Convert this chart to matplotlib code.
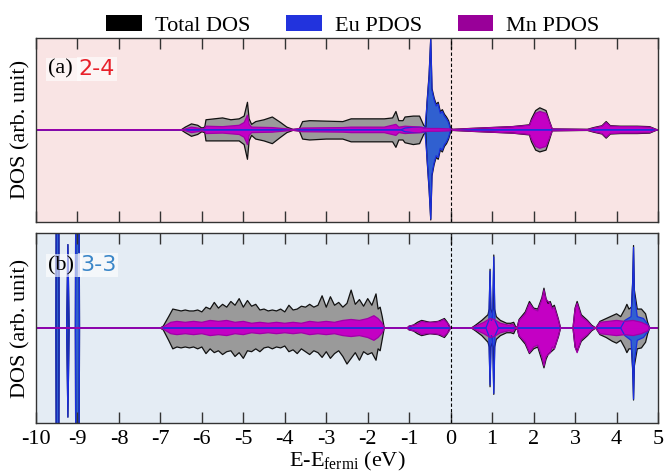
"""
Total and projected DOS of two Eu-Mn configurations, spin up / spin down.
"""

import matplotlib.pyplot as plt
from matplotlib.patches import Patch

# ---------------- panel (a) 2-4 ----------------
e_tot_a = [-10.0, -6.5, -6.4, -6.25, -6.1, -6.0, -5.93, -5.9, -5.7, -5.5, -5.3, -5.1,
           -4.98, -4.9, -4.86, -4.8, -4.7, -4.5, -4.3, -4.1, -3.95, -3.8, -3.65, -3.57,
           -3.4, -3.0, -2.6, -2.4, -2.0, -1.6, -1.4, -1.32, -1.25, -1.15, -1.1, -0.9,
           -0.75, -0.65, -0.6, -0.57, -0.52, -0.48, -0.45, -0.4, -0.35, -0.3, -0.25,
           -0.2, -0.15, -0.1, -0.05, 0.0, 0.05, 0.5, 1.0, 1.5, 1.9, 1.95, 2.05, 2.15,
           2.3, 2.38, 2.45, 3.3, 3.45, 3.65, 3.75, 3.85, 4.1, 4.5, 4.8, 4.95, 5.0]
tot_up_a = [0.0, 0.0, 0.03, 0.065, 0.05, 0.02, 0.03, 0.11, 0.12, 0.13, 0.11, 0.12,
            0.15, 0.30, 0.12, 0.06, 0.09, 0.11, 0.14, 0.08, 0.03, 0.005, 0.01, 0.09,
            0.10, 0.095, 0.09, 0.12, 0.12, 0.12, 0.13, 0.20, 0.10, 0.10, 0.14, 0.15,
            0.15, 0.05, 0.03, 0.30, 0.60, 1.00, 0.45, 0.35, 0.28, 0.30, 0.20,
            0.22, 0.17, 0.14, 0.10, 0.02, 0.006, 0.016, 0.026, 0.036, 0.055, 0.12, 0.21, 0.24,
            0.21, 0.10, 0.01, 0.006, 0.025, 0.045, 0.09, 0.045, 0.04, 0.04, 0.035, 0.006, 0.0]
tot_dn_a = [0.0, 0.0, 0.03, 0.07, 0.05, 0.02, 0.03, 0.12, 0.12, 0.12, 0.12, 0.12,
            0.16, 0.32, 0.12, 0.06, 0.10, 0.12, 0.15, 0.08, 0.03, 0.005, 0.01, 0.10,
            0.11, 0.10, 0.10, 0.13, 0.13, 0.13, 0.13, 0.19, 0.11, 0.11, 0.14, 0.16,
            0.15, 0.05, 0.03, 0.32, 0.65, 0.98, 0.50, 0.38, 0.30, 0.32, 0.22,
            0.24, 0.18, 0.15, 0.10, 0.02, 0.006, 0.016, 0.026, 0.036, 0.055, 0.13, 0.22, 0.24,
            0.22, 0.11, 0.01, 0.006, 0.025, 0.045, 0.09, 0.045, 0.04, 0.04, 0.035, 0.006, 0.0]

e_eu_a = [-10.0, -1.2, -1.1, -0.9, -0.7, -0.62, -0.57, -0.52, -0.48, -0.45, -0.4,
          -0.35, -0.3, -0.25, -0.2, -0.15, -0.1, -0.05, 0.0, 5.0]
eu_up_a = [0.0, 0.0, 0.02, 0.03, 0.03, 0.02, 0.28, 0.58, 0.99, 0.43, 0.33,
           0.26, 0.28, 0.18, 0.20, 0.15, 0.12, 0.08, 0.0, 0.0]
eu_dn_a = [0.0, 0.0, 0.02, 0.03, 0.03, 0.02, 0.30, 0.63, 0.97, 0.48, 0.36,
           0.28, 0.30, 0.20, 0.22, 0.16, 0.13, 0.08, 0.0, 0.0]

e_mn_a = [-10.0, -6.5, -6.4, -6.25, -6.1, -6.0, -5.93, -5.9, -5.5, -5.1, -4.98, -4.9,
          -4.86, -4.8, -4.3, -3.8, -3.57, -2.6, -2.4, -1.6, -1.32, -1.25, -1.1, -0.75,
          -0.65, -0.5, -0.3, 0.0, 0.05, 0.5, 1.0, 1.5, 1.9, 1.95, 2.05, 2.15, 2.3, 2.38,
          2.45, 3.3, 3.45, 3.65, 3.75, 3.85, 4.1, 4.5, 4.8, 4.95, 5.0]
mn_a = [0.0, 0.0, 0.01, 0.03, 0.02, 0.01, 0.02, 0.04, 0.035, 0.05, 0.08, 0.16,
        0.06, 0.03, 0.025, 0.005, 0.02, 0.025, 0.03, 0.03, 0.06, 0.03, 0.04, 0.03,
        0.02, 0.015, 0.015, 0.01, 0.005, 0.015, 0.025, 0.035, 0.05, 0.10, 0.18, 0.20, 0.18, 0.09,
        0.01, 0.004, 0.02, 0.04, 0.08, 0.04, 0.035, 0.035, 0.03, 0.005, 0.0]

# ---------------- panel (b) 3-3 ----------------
e_tot_b = [-10.0, -9.52, -9.48, -9.44, -9.26, -9.23, -9.2, -9.05, -9.01, -8.99, -8.95,
           -7.0, -6.93, -6.8,
           -6.7, -6.6, -6.5, -6.4, -6.3, -6.2, -6.1, -6.0, -5.9, -5.8, -5.7, -5.6, -5.5,
           -5.4, -5.3, -5.2, -5.1, -5.0, -4.9, -4.8, -4.7, -4.6, -4.5, -4.4, -4.3, -4.2,
           -4.1, -4.0, -3.9, -3.8, -3.7, -3.6, -3.5, -3.4, -3.3, -3.2, -3.1, -3.0, -2.9,
           -2.8, -2.7, -2.6, -2.5, -2.4, -2.3, -2.2, -2.1, -2.0, -1.9, -1.8, -1.75, -1.7,
           -1.65, -1.6,
           -1.05, -1.0, -0.9, -0.8, -0.75, -0.7, -0.6, -0.5, -0.4, -0.3, -0.2, -0.15,
           -0.08, -0.02, 0.0,
           0.5, 0.6, 0.75, 0.9, 0.93, 0.95, 0.97, 1.0, 1.02, 1.04, 1.06, 1.1, 1.2, 1.35,
           1.45, 1.52, 1.56, 1.6, 1.65, 1.8, 1.9, 2.0, 2.1, 2.2, 2.25, 2.3, 2.35, 2.4,
           2.45, 2.5, 2.6, 2.65, 2.95, 3.0, 3.05, 3.15, 3.3, 3.4, 3.5, 3.6, 3.75, 3.9,
           4.0, 4.1, 4.2, 4.25, 4.3, 4.36, 4.39, 4.41, 4.43, 4.5, 4.6, 4.7, 4.75, 4.8, 5.0]
tot_up_b = [0.0, 0.0, 6.0, 0.0, 0.0, 0.88, 0.0, 0.0, 6.0, 6.0, 0.0,
            0.0, 0.02, 0.12,
            0.20, 0.19, 0.18, 0.19, 0.18, 0.18, 0.19, 0.17, 0.22, 0.20, 0.27, 0.21, 0.25,
            0.22, 0.28, 0.24, 0.31, 0.22, 0.29, 0.23, 0.25, 0.19, 0.20, 0.18, 0.19, 0.18,
            0.20, 0.17, 0.24, 0.19, 0.20, 0.23, 0.22, 0.25, 0.22, 0.24, 0.34, 0.22, 0.33,
            0.24, 0.27, 0.22, 0.26, 0.40, 0.25, 0.30, 0.23, 0.31, 0.24, 0.36, 0.20, 0.22,
            0.12, 0.0,
            0.0, 0.02, 0.03, 0.06, 0.07, 0.08, 0.07, 0.06, 0.065, 0.07, 0.09, 0.10,
            0.06, 0.01, 0.0,
            0.0, 0.03, 0.08, 0.14, 0.20, 0.62, 0.20, 0.16, 0.20, 0.77, 0.20, 0.12, 0.08, 0.05,
            0.05, 0.06, 0.02, 0.0, 0.09, 0.17, 0.28, 0.21, 0.20, 0.32, 0.42, 0.31, 0.26, 0.28,
            0.22, 0.24, 0.09, 0.0, 0.0, 0.21, 0.28, 0.14, 0.08, 0.03, 0.0, 0.07, 0.10, 0.13,
            0.15, 0.12, 0.20, 0.25, 0.20, 0.22, 0.50, 0.87, 0.40, 0.20, 0.20, 0.15, 0.06, 0.0, 0.0]
tot_dn_b = [0.0, 0.0, 6.0, 0.0, 0.0, 0.94, 0.0, 0.0, 6.0, 6.0, 0.0,
            0.0, 0.02, 0.13,
            0.22, 0.20, 0.21, 0.20, 0.21, 0.20, 0.22, 0.20, 0.27, 0.22, 0.26, 0.24, 0.28,
            0.25, 0.24, 0.30, 0.26, 0.32, 0.24, 0.25, 0.22, 0.25, 0.21, 0.20, 0.22, 0.20,
            0.21, 0.19, 0.25, 0.23, 0.27, 0.22, 0.25, 0.28, 0.24, 0.26, 0.31, 0.25, 0.32,
            0.27, 0.24, 0.30, 0.38, 0.32, 0.26, 0.34, 0.25, 0.28, 0.26, 0.34, 0.22, 0.24,
            0.12, 0.0,
            0.0, 0.02, 0.03, 0.06, 0.07, 0.08, 0.07, 0.06, 0.065, 0.07, 0.09, 0.10,
            0.06, 0.01, 0.0,
            0.0, 0.03, 0.08, 0.15, 0.20, 0.62, 0.20, 0.16, 0.20, 0.70, 0.20, 0.12, 0.08, 0.05,
            0.05, 0.06, 0.02, 0.0, 0.09, 0.17, 0.27, 0.22, 0.20, 0.34, 0.42, 0.33, 0.28, 0.26,
            0.24, 0.22, 0.09, 0.0, 0.0, 0.20, 0.25, 0.14, 0.08, 0.03, 0.0, 0.07, 0.10, 0.14,
            0.16, 0.13, 0.21, 0.26, 0.22, 0.22, 0.45, 0.76, 0.40, 0.22, 0.21, 0.15, 0.06, 0.0, 0.0]

e_eu_b = [-10.0, -9.52, -9.48, -9.44, -9.26, -9.23, -9.2, -9.05, -9.01, -8.99, -8.95,
          0.85, 0.92, 0.95, 0.98, 1.01, 1.04, 1.07, 1.15, 4.1, 4.2, 4.35, 4.39, 4.41,
          4.43, 4.5, 4.65, 4.75, 4.8, 5.0]
eu_up_b = [0.0, 0.0, 6.0, 0.0, 0.0, 0.88, 0.0, 0.0, 6.0, 6.0, 0.0,
           0.0, 0.08, 0.60, 0.08, 0.10, 0.75, 0.08, 0.0, 0.0, 0.08, 0.12, 0.48, 0.85,
           0.35, 0.12, 0.10, 0.04, 0.0, 0.0]
eu_dn_b = [0.0, 0.0, 6.0, 0.0, 0.0, 0.94, 0.0, 0.0, 6.0, 6.0, 0.0,
           0.0, 0.08, 0.60, 0.08, 0.10, 0.69, 0.08, 0.0, 0.0, 0.08, 0.13, 0.43, 0.75,
           0.35, 0.13, 0.10, 0.04, 0.0, 0.0]

e_mn_b = [-10.0, -7.0, -6.9, -6.75, -6.6, -6.4, -6.2, -6.0, -5.8, -5.6, -5.4, -5.2, -5.0,
          -4.8, -4.6, -4.4, -4.2, -4.0, -3.8, -3.6, -3.4, -3.2, -3.0, -2.8, -2.6, -2.4,
          -2.2, -2.0, -1.85, -1.75, -1.65, -1.6, -1.05, -1.0, -0.8, -0.7, -0.6, -0.4,
          -0.25, -0.17, -0.05, 0.0, 0.5, 0.6, 0.8, 0.95, 1.05, 1.2, 1.4, 1.5, 1.55, 1.6,
          1.65, 1.8, 1.9, 2.0, 2.1, 2.2, 2.25, 2.3, 2.4, 2.45, 2.5, 2.6, 2.65, 2.95, 3.0,
          3.05, 3.15, 3.3, 3.4, 3.5, 3.6, 3.8, 4.0, 4.2, 4.4, 4.6, 4.75, 4.8, 5.0]
mn_b = [0.0, 0.0, 0.02, 0.06, 0.07, 0.06, 0.07, 0.06, 0.08, 0.07, 0.08, 0.06, 0.07,
        0.05, 0.06, 0.05, 0.06, 0.05, 0.06, 0.05, 0.07, 0.06, 0.07, 0.06, 0.08, 0.09,
        0.08, 0.10, 0.13, 0.10, 0.05, 0.0, 0.0, 0.02, 0.04, 0.07, 0.06, 0.06,
        0.07, 0.09, 0.04, 0.0, 0.0, 0.02, 0.06, 0.10, 0.09, 0.05, 0.03, 0.04, 0.01, 0.0,
        0.08, 0.15, 0.26, 0.20, 0.18, 0.30, 0.40, 0.30, 0.26, 0.20, 0.22, 0.08, 0.0, 0.0, 0.20,
        0.26, 0.12, 0.07, 0.02, 0.0, 0.06, 0.07, 0.08, 0.07, 0.08, 0.06, 0.03, 0.0, 0.0]

panels = [
    ("(a) ", "2-4", "#e8202a", "#f9e4e4",
     (e_tot_a, tot_up_a, tot_dn_a), (e_eu_a, eu_up_a, eu_dn_a), (e_mn_a, mn_a, mn_a)),
    ("(b) ", "3-3", "#3a86c8", "#e4ecf4",
     (e_tot_b, tot_up_b, tot_dn_b), (e_eu_b, eu_up_b, eu_dn_b), (e_mn_b, mn_b, mn_b)),
]

plt.rcParams["font.family"] = ["Liberation Serif", "DejaVu Serif"]
plt.rcParams["font.size"] = 16
plt.rcParams["axes.unicode_minus"] = False

fig = plt.figure(figsize=(6.66, 4.74), dpi=100)
ax_a = fig.add_axes([0.054, 0.532, 0.934, 0.388])
ax_b = fig.add_axes([0.054, 0.108, 0.934, 0.400])

styles = [("#9a9a9a", "#111111"), ("#3060d0", "#1a2ee0"), ("#c400c4", "#a000a8")]

for ax, (tag, name, name_color, bg, tot, eu, mn) in zip([ax_a, ax_b], panels):
    ax.set_facecolor(bg)
    for (xs, up, dn), (fc, ec) in zip([tot, eu, mn], styles):
        neg = [-v for v in dn]
        ax.fill_between(xs, 0, up, facecolor=fc, edgecolor="none")
        ax.fill_between(xs, 0, neg, facecolor=fc, edgecolor="none")
        ax.plot(xs, up, color=ec, lw=0.9)
        ax.plot(xs, neg, color=ec, lw=0.9)

    ax.axvline(0, color="black", lw=0.8, ls=(0, (3, 2)))
    ax.set_xlim(-10, 5)
    ax.set_ylim(-1.0, 1.0)
    ax.set_xticks(range(-10, 6))
    ax.set_yticks([])
    ax.tick_params(axis="x", direction="in", top=True, bottom=True,
                   length=8, width=1, color="#333333", pad=5)
    for sp in ax.spines.values():
        sp.set_color("#333333")
        sp.set_linewidth(1.0)
    ax.set_ylabel("DOS (arb. unit)", labelpad=4)

    t = ax.text(0.02, 0.83, tag, transform=ax.transAxes, fontsize=16,
                va="center", ha="left", color="black")
    t.set_bbox(dict(facecolor="white", alpha=0.6, edgecolor="none", pad=1.5))
    ax.annotate(name, xycoords=t, xy=(1, 0.5), va="center", ha="left",
                fontsize=16, color=name_color, family="DejaVu Sans",
                bbox=dict(facecolor="white", alpha=0.6, edgecolor="none", pad=1.5))

ax_a.tick_params(axis="x", labelbottom=False)
ax_b.set_xlabel("E-E$_{\\mathregular{fermi}}$ (eV)", labelpad=1)

handles = [Patch(facecolor="black", label="Total DOS"),
           Patch(facecolor="#2233dd", label="Eu PDOS"),
           Patch(facecolor="#990099", label="Mn PDOS")]
fig.legend(handles=handles, loc="upper center", bbox_to_anchor=(0.53, 1.01),
           ncol=3, frameon=False, handlelength=1.6, handleheight=0.7,
           columnspacing=1.6, handletextpad=0.6, fontsize=16)

fig.savefig("out.png", dpi=100)
plt.close(fig)
